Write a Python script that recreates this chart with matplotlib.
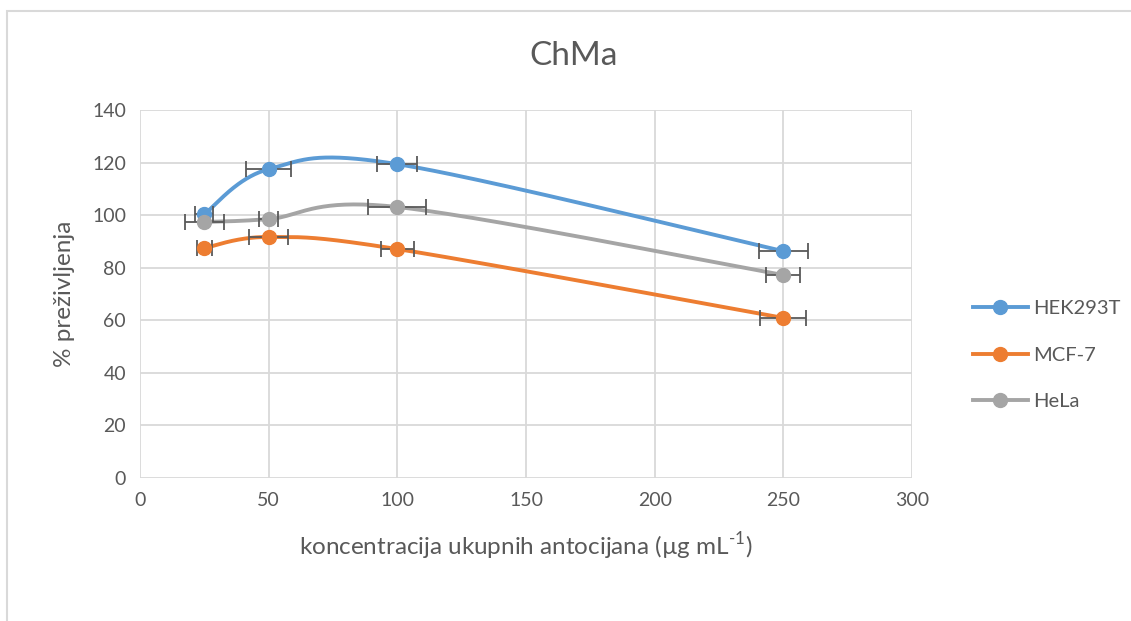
import numpy as np
import matplotlib.pyplot as plt
from matplotlib.patches import Rectangle

plt.rcParams['font.family'] = ['Lato', 'DejaVu Sans']
plt.rcParams['mathtext.fontset'] = 'custom'
plt.rcParams['mathtext.rm'] = 'Lato'

# podaci
konc = [25, 50, 100, 250]
hek293t = [100.4, 117.5, 119.4, 86.3]
mcf7 = [87.5, 91.7, 87.1, 60.9]
hela = [97.4, 98.5, 103.1, 77.2]
hek_err = [3.5, 8.7, 7.8, 9.5]
mcf_err = [3.0, 7.6, 6.4, 9.0]
hela_err = [7.6, 3.7, 11.3, 6.6]
nazivi = ['HEK293T', 'MCF-7', 'HeLa']
boje = ['#5B9BD5', '#ED7D31', '#A5A5A5']


def glatko(x, y, n=60):
    # Excel-style smoothing (Bezier through points)
    x = np.asarray(x, float)
    y = np.asarray(y, float)
    P = np.column_stack([x, y])
    k = len(P)
    out = []
    t = np.linspace(0, 1, n)[:, None]
    for i in range(k - 1):
        p0 = P[i - 1] if i > 0 else P[i]
        p1 = P[i]
        p2 = P[i + 1]
        p3 = P[i + 2] if i + 2 < k else P[i + 1]
        c1 = p1 + (p2 - p0) / 6
        c2 = p2 - (p3 - p1) / 6
        seg = ((1 - t) ** 3) * p1 + 3 * ((1 - t) ** 2) * t * c1 + 3 * (1 - t) * t ** 2 * c2 + t ** 3 * p2
        out.append(seg)
    s = np.vstack(out)
    return s[:, 0], s[:, 1]


fig = plt.figure(figsize=(11.31, 6.21), dpi=100)
fig.patches.append(Rectangle((7 / 1131, -0.1), 1.2, 1 - 11 / 621 + 0.1, transform=fig.transFigure,
                             fill=False, edgecolor='#D9D9D9', linewidth=1.5, zorder=-5))
ax = fig.add_axes([140 / 1131, 1 - 478 / 621, 772 / 1131, 368 / 621])

serije = [hek293t, mcf7, hela]
greske = [hek_err, mcf_err, hela_err]
for ime, vals, err, c in zip(nazivi, serije, greske, boje):
    xs, ys = glatko(konc, vals)
    ax.plot(xs, ys, color=c, linewidth=2.8, zorder=3, solid_capstyle='round')
    ax.errorbar(konc, vals, xerr=err, fmt='none', ecolor='#595959', elinewidth=1.3,
                capsize=6, capthick=1.3, zorder=4)
    ax.plot(konc, vals, 'o', color=c, markersize=10, zorder=5)
    ax.plot([], [], '-o', color=c, linewidth=2.8, markersize=10, label=ime)

ax.set_xlim(0, 300)
ax.set_ylim(0, 140)
ax.set_xticks(range(0, 301, 50))
ax.set_yticks(range(0, 141, 20))
ax.grid(True, color='#D9D9D9', linewidth=1.3)
ax.set_axisbelow(True)
for s in ax.spines.values():
    s.set_visible(False)
ax.tick_params(length=0, labelsize=14, colors='#595959', pad=10)

fig.text(574 / 1131, 1 - 56 / 621, 'ChMa', fontsize=24, color='#595959', ha='center', va='center')
ax.set_xlabel(r'koncentracija ukupnih antocijana (µg mL$^{\text{-1}}$)', fontsize=17.5,
              color='#595959', labelpad=15)
ax.set_ylabel('% preživljenja', fontsize=17.5, color='#595959', labelpad=12)

fig.legend(loc='center left', bbox_to_anchor=(955 / 1131, 1 - 355 / 621), frameon=False,
           fontsize=14.5, labelcolor='#595959', handlelength=2.7, labelspacing=1.45, handletextpad=0.3)

fig.savefig('out.png', dpi=100)
